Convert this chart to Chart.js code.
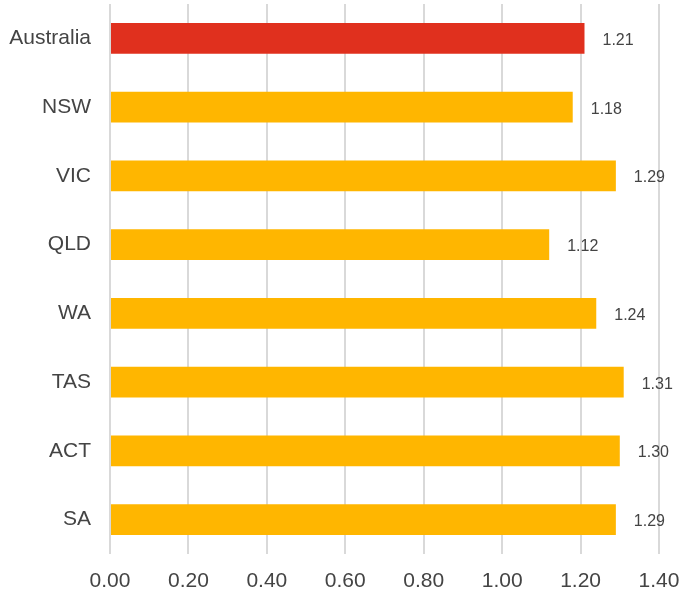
<!DOCTYPE html>
<html>
<head>
<meta charset="utf-8">
<script src="https://cdn.jsdelivr.net/npm/chart.js@4"></script>
<style>
  html, body { margin: 0; padding: 0; background: #fff; }
  #wrap { width: 683px; height: 593px; }
</style>
</head>
<body>
<div id="wrap"><canvas id="chart" width="683" height="593"></canvas></div>
<script>
// data
const regions = ['Australia', 'NSW', 'VIC', 'QLD', 'WA', 'TAS', 'ACT', 'SA'];
const ratios = [1.21, 1.18, 1.29, 1.12, 1.24, 1.31, 1.30, 1.29];
const barColors = ['#E0301E', '#FFB600', '#FFB600', '#FFB600', '#FFB600', '#FFB600', '#FFB600', '#FFB600'];

// draws the value next to each bar
const valueLabels = {
    id: 'valueLabels',
    afterDatasetsDraw(chart) {
        const ctx = chart.ctx;
        const meta = chart.getDatasetMeta(0);
        ctx.save();
        ctx.font = '16px "Liberation Sans", Arial, sans-serif';
        ctx.fillStyle = '#444';
        ctx.textAlign = 'left';
        ctx.textBaseline = 'middle';
        meta.data.forEach(function(bar, i) {
            ctx.fillText(ratios[i].toFixed(2), bar.x + 18, bar.y + 2);
        });
        ctx.restore();
    }
};

Chart.defaults.font.family = '"Liberation Sans", Arial, sans-serif';
Chart.defaults.color = '#444';

new Chart(document.getElementById('chart'), {
    type: 'bar',
    data: {
        labels: regions,
        datasets: [{
            data: ratios,
            backgroundColor: barColors,
            barPercentage: 0.45,
            categoryPercentage: 1
        }]
    },
    options: {
        indexAxis: 'y',
        responsive: false,
        animation: false,
        layout: { padding: { top: 4, right: 24, left: 0, bottom: 0 } },
        plugins: {
            legend: { display: false },
            tooltip: { enabled: false }
        },
        scales: {
            x: {
                min: 0,
                max: 1.4,
                ticks: {
                    stepSize: 0.2,
                    font: { size: 21 },
                    padding: 15,
                    callback: v => v.toFixed(2)
                },
                grid: { color: '#d9d9d9', lineWidth: 2, drawTicks: false },
                border: { display: false },
                // pin the plot area to where the reference has it
                afterFit: s => { s.height = 39; s.paddingLeft = 0; s.paddingRight = 0; }
            },
            y: {
                ticks: { font: { size: 21 }, padding: 11 },
                grid: { display: false },
                border: { display: false },
                afterFit: s => { s.width = 110; s.paddingTop = 0; s.paddingBottom = 0; }
            }
        }
    },
    plugins: [valueLabels]
});
</script>
</body>
</html>
